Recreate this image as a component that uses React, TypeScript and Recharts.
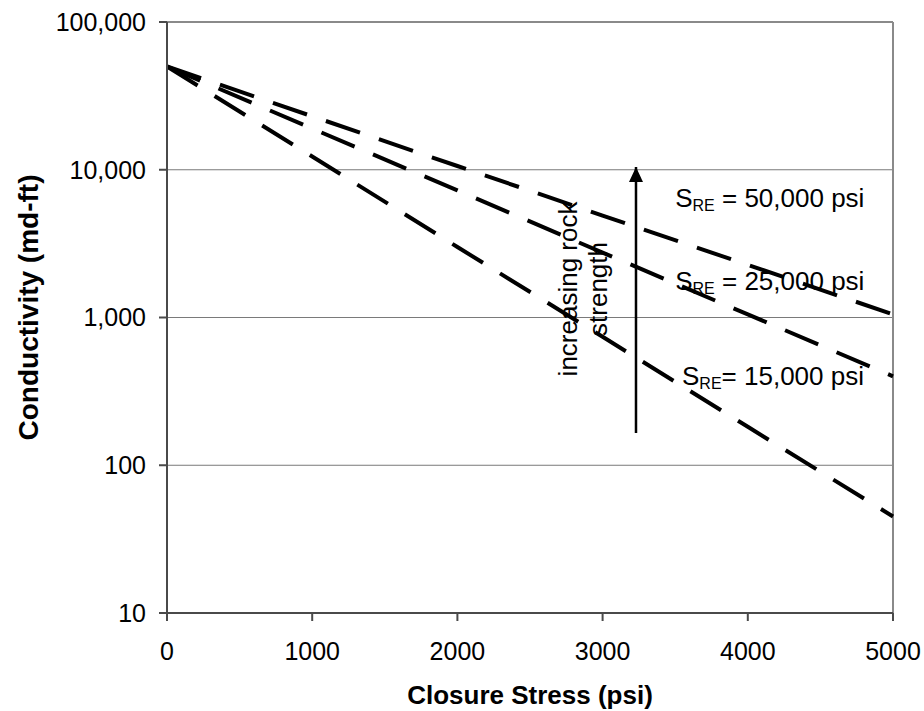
import { LineChart, Line, XAxis, YAxis, CartesianGrid, ReferenceLine, ReferenceDot } from 'recharts'

const stress = [0, 1000, 2000, 3000, 4000, 5000]
const sre50000 = [50000, 23000, 10600, 4900, 2270, 1050]
const sre25000 = [50000, 19000, 7250, 2750, 1050, 400]
const sre15000 = [50000, 12300, 3000, 740, 182, 45]

const xTicks = [0, 1000, 2000, 3000, 4000, 5000]
const yTicks = [10, 100, 1000, 10000, 100000]

// annotation anchors in data units
const curveLabels = [
  { x: 3500, y: 5600, sub: 'RE', rest: ' = 50,000 psi' },
  { x: 3500, y: 1535, sub: 'RE', rest: ' = 25,000 psi' },
  { x: 3547, y: 349, sub: 'RE', rest: '= 15,000 psi' },
]
const arrowX = 3230
const arrowTop = 10440
const arrowBottom = 165
const noteAnchor = { x: 2824, y: 1560 }

const data = stress.map((s, i) => ({
  stress: s,
  a: sre50000[i],
  b: sre25000[i],
  c: sre15000[i],
}))

const font = '"Liberation Sans", Arial, sans-serif'
const tickStyle = { fontSize: 25, fill: '#000', fontFamily: font }

export default function App() {
  return (
    <div style={{ position: 'absolute', left: 0, top: 0, background: '#fff' }}>
      <LineChart width={924} height={711} data={data} margin={{ top: 22, right: 31, bottom: 0, left: 0 }}>
        <CartesianGrid vertical={false} stroke="#7a7a7a" strokeWidth={1} />
        <XAxis
          dataKey="stress"
          type="number"
          domain={[0, 5000]}
          ticks={xTicks}
          height={98}
          tick={tickStyle}
          tickSize={8}
          tickMargin={21}
          stroke="#4a4a4a"
          strokeWidth={2}
          label={{
            value: 'Closure Stress (psi)',
            position: 'insideBottom',
            offset: 7,
            style: { fontSize: 26, fontWeight: 'bold', fill: '#000', fontFamily: font },
          }}
        />
        <YAxis
          scale="log"
          domain={[10, 100000]}
          ticks={yTicks}
          allowDataOverflow
          width={167}
          tick={tickStyle}
          tickSize={8}
          tickMargin={13}
          stroke="#4a4a4a"
          strokeWidth={2}
          tickFormatter={(v: number) => v.toLocaleString('en-US')}
          label={{
            content: ({ viewBox }: any) => {
              const cx = viewBox.x + 38
              const cy = viewBox.y + viewBox.height / 2 - 10
              return (
                <text
                  x={cx}
                  y={cy}
                  transform={`rotate(-90 ${cx} ${cy})`}
                  textAnchor="middle"
                  style={{ fontSize: 28, fontWeight: 'bold', fill: '#000', fontFamily: font }}
                >
                  Conductivity (md-ft)
                </text>
              )
            },
          }}
        />
        <ReferenceLine y={100000} stroke="#8a8a8a" strokeWidth={2} />
        <ReferenceLine x={5000} stroke="#8a8a8a" strokeWidth={2} />
        <Line dataKey="a" type="linear" stroke="#000" strokeWidth={4} strokeDasharray="36 20" dot={false} isAnimationActive={false} />
        <Line dataKey="b" type="linear" stroke="#000" strokeWidth={4} strokeDasharray="36 20" dot={false} isAnimationActive={false} />
        <Line dataKey="c" type="linear" stroke="#000" strokeWidth={4} strokeDasharray="36 20" dot={false} isAnimationActive={false} />
        <ReferenceLine
          segment={[
            { x: arrowX, y: arrowBottom },
            { x: arrowX, y: arrowTop },
          ]}
          stroke="#000"
          strokeWidth={2.5}
        />
        <ReferenceDot
          x={arrowX}
          y={arrowTop}
          r={0}
          shape={(p: any) => (
            <path d={`M${p.cx},${p.cy} L${p.cx - 7},${p.cy + 15} L${p.cx + 7},${p.cy + 15} Z`} fill="#000" />
          )}
        />
        <ReferenceDot
          x={noteAnchor.x}
          y={noteAnchor.y}
          r={0}
          shape={(p: any) => (
            <text
              x={p.cx}
              y={p.cy}
              transform={`rotate(-90 ${p.cx} ${p.cy})`}
              textAnchor="middle"
              style={{ fontSize: 26, fill: '#000', fontFamily: font }}
            >
              <tspan x={p.cx} dy={0}>increasing rock</tspan>
              <tspan x={p.cx} dy={30}>strength</tspan>
            </text>
          )}
        />
        {curveLabels.map((l, i) => (
          <ReferenceDot
            key={i}
            x={l.x}
            y={l.y}
            r={0}
            shape={(p: any) => (
              <text x={p.cx} y={p.cy} style={{ fontSize: 26, fill: '#000', fontFamily: font }}>
                <tspan>S</tspan>
                <tspan fontSize={16} dy={4}>{l.sub}</tspan>
                <tspan dy={-4}>{l.rest}</tspan>
              </text>
            )}
          />
        ))}
      </LineChart>
    </div>
  )
}
